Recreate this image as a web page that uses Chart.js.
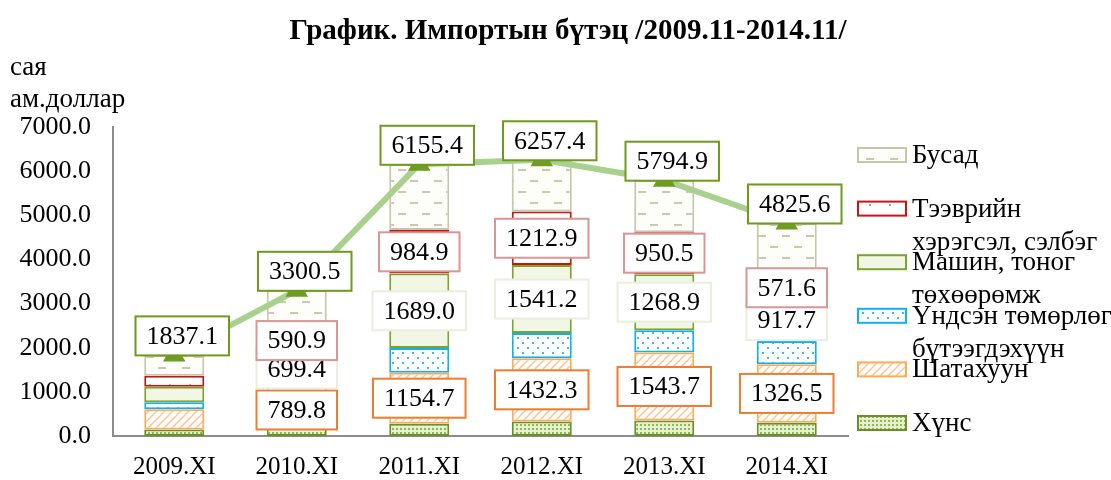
<!DOCTYPE html>
<html>
<head>
<meta charset="utf-8">
<script src="https://cdn.jsdelivr.net/npm/chart.js@4.4.1/dist/chart.umd.min.js"></script>
<style>
  html, body { margin: 0; padding: 0; background: #fff; }
  #wrap { width: 1111px; height: 480px; position: relative; }
</style>
</head>
<body>
<div id="wrap"><canvas id="chart"></canvas></div>
<script>
// ── Daten ─────────────────────────────────────────────────────────────
const categories = ['2009.XI', '2010.XI', '2011.XI', '2012.XI', '2013.XI', '2014.XI'];
const food       = [145, 195, 279, 330, 350, 301];
const fuel       = [462, 789.8, 1154.7, 1432.3, 1543.7, 1326.5];
const metals     = [157, 182, 557, 570, 504, 527];
const machinery  = [352, 699.4, 1689.0, 1541.2, 1268.9, 917.7];
const transport  = [247, 590.9, 984.9, 1212.9, 950.5, 571.6];
const other      = [474.1, 843.4, 1490.8, 1171.0, 1177.8, 1181.8];
const totals     = [1837.1, 3300.5, 6155.4, 6257.4, 5794.9, 4825.6];
const yTicks     = [0, 1000, 2000, 3000, 4000, 5000, 6000, 7000];

const FONT = '"Liberation Serif", "Times New Roman", serif';

// ── Muster ────────────────────────────────────────────────────────────
function tile(w, h, draw) {
  const c = document.createElement('canvas');
  c.width = w; c.height = h;
  const g = c.getContext('2d');
  draw(g);
  return document.getElementById('chart').getContext('2d').createPattern(c, 'repeat');
}

const patFood = tile(4, 4, g => {
  g.fillStyle = '#e6f1d2'; g.fillRect(0, 0, 4, 4);
  g.fillStyle = '#8fb650'; g.fillRect(0, 0, 2, 2);
});
const patFuel = tile(8, 8, g => {
  g.fillStyle = '#fff'; g.fillRect(0, 0, 8, 8);
  g.strokeStyle = '#ffc28c'; g.lineWidth = 1.4;
  g.beginPath();
  g.moveTo(0, 8); g.lineTo(8, 0);
  g.moveTo(-4, 4); g.lineTo(4, -4);
  g.moveTo(4, 12); g.lineTo(12, 4);
  g.stroke();
});
const patMetals = tile(10, 10, g => {
  g.fillStyle = '#fff'; g.fillRect(0, 0, 10, 10);
  g.fillStyle = '#3fb9ee';
  g.fillRect(2, 2, 2, 2); g.fillRect(7, 7, 2, 2);
});
const patMachine = '#f1f7e4';
const patTransport = tile(20, 20, g => {
  g.fillStyle = '#fff'; g.fillRect(0, 0, 20, 20);
  g.fillStyle = '#e58585';
  g.fillRect(9, 4, 2, 2);
});
const patOther = tile(24, 22, g => {
  g.fillStyle = '#fdfdfa'; g.fillRect(0, 0, 24, 22);
  g.strokeStyle = '#c9c9b2'; g.lineWidth = 2;
  g.beginPath();
  g.moveTo(2, 5); g.lineTo(10, 5);
  g.moveTo(14, 16); g.lineTo(22, 16);
  g.stroke();
});

// Reihenfolge von unten nach oben
const series = [
  { label: 'Хүнс',        legend: ['Хүнс'],                              data: food,      fill: patFood,      border: '#6d8f2a', box: null },
  { label: 'Шатахуун',    legend: ['Шатахуун'],                          data: fuel,      fill: patFuel,      border: '#ffaa55', box: '#ed7d31' },
  { label: 'Үндсэн төмөрлөг бүтээгдэхүүн', legend: ['Үндсэн төмөрлөг', 'бүтээгдэхүүн'], data: metals, fill: patMetals, border: '#11b0ef', box: null },
  { label: 'Машин, тоног төхөөрөмж', legend: ['Машин, тоног', 'төхөөрөмж'], data: machinery, fill: patMachine, border: '#7aa42c', box: '#e9efdc' },
  { label: 'Тээврийн хэрэгсэл, сэлбэг', legend: ['Тээврийн', 'хэрэгсэл, сэлбэг'], data: transport, fill: patTransport, border: '#c91414', box: '#d99694' },
  { label: 'Бусад',       legend: ['Бусад'],                             data: other,     fill: patOther,     border: '#c6c6ab', box: null },
];

// ── Hilfsfunktionen ──────────────────────────────────────────────────
function drawBox(ctx, text, cx, cy, stroke) {
  ctx.font = `26px ${FONT}`;
  const w = ctx.measureText(text).width + 22;
  const h = 39;
  ctx.fillStyle = '#fff';
  ctx.fillRect(cx - w / 2, cy - h / 2, w, h);
  ctx.strokeStyle = stroke;
  ctx.lineWidth = 2;
  ctx.strokeRect(cx - w / 2, cy - h / 2, w, h);
  ctx.fillStyle = '#000';
  ctx.textAlign = 'center';
  ctx.textBaseline = 'middle';
  ctx.fillText(text, cx, cy + 1);
}

const labelsPlugin = {
  id: 'boxLabels',
  afterDatasetsDraw(chart) {
    const ctx = chart.ctx;
    ctx.save();
    series.forEach((s, di) => {
      if (!s.box) return;
      const meta = chart.getDatasetMeta(di);
      meta.data.forEach((el, i) => {
        if (i === 0) return; // 2009 ohne Segment-Beschriftung
        drawBox(ctx, s.data[i].toFixed(1), el.x, (el.y + el.base) / 2, s.box);
      });
    });
    const lineMeta = chart.getDatasetMeta(series.length);
    lineMeta.data.forEach((el, i) => {
      drawBox(ctx, totals[i].toFixed(1), el.x + 8, el.y - 19, '#6f9a1c');
    });
    ctx.restore();
  },
  afterDraw(chart) {
    const ctx = chart.ctx;
    ctx.save();
    // Titel
    ctx.fillStyle = '#000';
    ctx.textAlign = 'center';
    ctx.textBaseline = 'middle';
    ctx.font = `bold 29px ${FONT}`;
    ctx.fillText('График. Импортын бүтэц /2009.11-2014.11/', 568, 32);
    // Achsentitel
    ctx.textAlign = 'left';
    ctx.font = `27px ${FONT}`;
    ctx.fillText('сая', 10, 68);
    ctx.fillText('ам.доллар', 10, 100);
    // Legende (oberster Eintrag = letzter Datensatz)
    const rowY0 = 155, rowStep = 53.6;
    series.slice().reverse().forEach((s, k) => {
      const y = rowY0 + k * rowStep;
      ctx.fillStyle = s.fill;
      ctx.fillRect(858, y - 7, 48, 14);
      ctx.strokeStyle = s.border;
      ctx.lineWidth = 2;
      ctx.strokeRect(858, y - 7, 48, 14);
      ctx.fillStyle = '#000';
      ctx.font = `27px ${FONT}`;
      s.legend.forEach((line, j) => ctx.fillText(line, 912, y + 1 + j * 33));
    });
    ctx.restore();
  },
};

const datasets = series.map(s => ({
  type: 'bar',
  label: s.label,
  data: s.data,
  backgroundColor: s.fill,
  borderColor: s.border,
  borderWidth: 2,
  borderSkipped: false,
  stack: 'imp',
  order: 2,
  barPercentage: 0.49,
  categoryPercentage: 1,
}));

datasets.push({
  type: 'line',
  label: 'Нийт',
  data: totals,
  stack: 'total',
  order: 1,
  borderColor: '#a9d18e',
  borderWidth: 6,
  pointStyle: 'triangle',
  pointRadius: 7,
  pointBackgroundColor: '#6f9c22',
  pointBorderColor: '#6f9c22',
  tension: 0,
});

new Chart(document.getElementById('chart'), {
  data: { labels: categories, datasets },
  plugins: [labelsPlugin],
  options: {
    responsive: true,
    maintainAspectRatio: false,
    animation: false,
    layout: { padding: { left: 0, right: 263, top: 127, bottom: 0 } },
    plugins: { legend: { display: false }, tooltip: { enabled: false }, title: { display: false } },
    scales: {
      x: {
        stacked: true,
        grid: { display: false, drawTicks: false },
        border: { color: '#8c8c8c', width: 2 },
        ticks: { color: '#000', font: { family: FONT, size: 25 }, padding: 16 },
        afterFit: s => { s.height = 44; },
      },
      y: {
        stacked: true,
        min: 0,
        max: 7000,
        afterBuildTicks: s => { s.ticks = yTicks.map(v => ({ value: v })); },
        grid: { display: false, drawTicks: false },
        border: { color: '#8c8c8c', width: 2 },
        ticks: { color: '#000', font: { family: FONT, size: 26 }, padding: 22, callback: v => Number(v).toFixed(1) },
        afterFit: s => { s.width = 113; },
      },
    },
  },
});
</script>
</body>
</html>
